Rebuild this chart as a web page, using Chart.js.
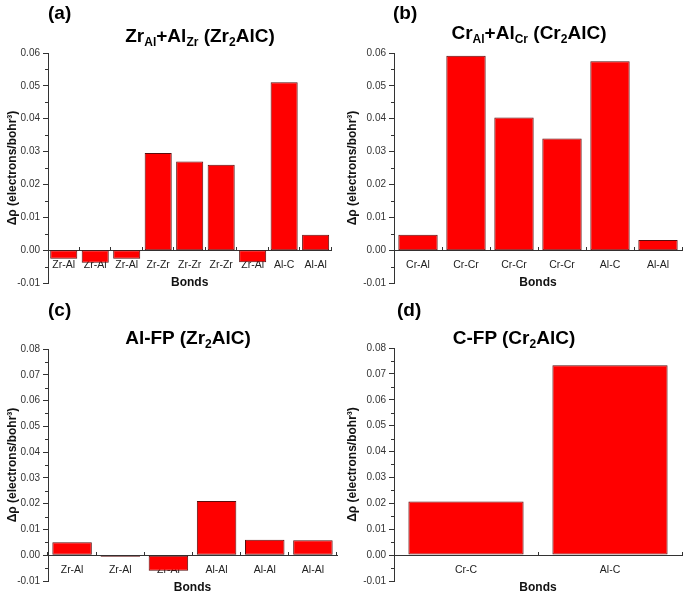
<!DOCTYPE html>
<html>
<head>
<meta charset="utf-8">
<script src="https://cdn.jsdelivr.net/npm/chart.js@4.4.1/dist/chart.umd.min.js"></script>
<style>
  body { margin: 0; background: #fff; }
  #wrap { position: relative; width: 685px; height: 591px; overflow: hidden; font-family: "Liberation Sans", Arial, sans-serif; }
  canvas { position: absolute; }
  .lbl { position: absolute; font-weight: bold; font-size: 19px; line-height: 19px; color: #000; white-space: nowrap; }
  .ttl { position: absolute; width: 300px; text-align: center; font-weight: bold; font-size: 19px; line-height: 19px; color: #000; white-space: nowrap; }
  .ttl span { font-size: 12px; position: relative; top: 4px; }
</style>
</head>
<body>
<div id="wrap">
  <canvas id="chartA" width="340" height="292" style="left:0;top:0"></canvas>
  <canvas id="chartB" width="345" height="292" style="left:340px;top:0"></canvas>
  <canvas id="chartC" width="340" height="299" style="left:0;top:292px"></canvas>
  <canvas id="chartD" width="345" height="299" style="left:340px;top:292px"></canvas>

  <div class="lbl" style="left:48px;top:3px">(a)</div>
  <div class="lbl" style="left:393px;top:3px">(b)</div>
  <div class="lbl" style="left:48px;top:300px">(c)</div>
  <div class="lbl" style="left:397px;top:300px">(d)</div>

  <div class="ttl" style="left:50px;top:26px">Zr<span>Al</span>+Al<span>Zr</span> (Zr<span>2</span>AlC)</div>
  <div class="ttl" style="left:379px;top:23px">Cr<span>Al</span>+Al<span>Cr</span> (Cr<span>2</span>AlC)</div>
  <div class="ttl" style="left:38px;top:328px">Al-FP (Zr<span>2</span>AlC)</div>
  <div class="ttl" style="left:364px;top:328px">C-FP (Cr<span>2</span>AlC)</div>
</div>
<script>
// Data for the four panels
const labelsA = ['Zr-Al', 'Zr-Al', 'Zr-Al', 'Zr-Zr', 'Zr-Zr', 'Zr-Zr', 'Zr-Al', 'Al-C', 'Al-Al'];
const valuesA = [-0.0026, -0.0038, -0.0026, 0.0296, 0.0270, 0.0260, -0.0037, 0.0511, 0.0047];

const labelsB = ['Cr-Al', 'Cr-Cr', 'Cr-Cr', 'Cr-Cr', 'Al-C', 'Al-Al'];
const valuesB = [0.0047, 0.0592, 0.0404, 0.0340, 0.0575, 0.0031];

const labelsC = ['Zr-Al', 'Zr-Al', 'Zr-Al', 'Al-Al', 'Al-Al', 'Al-Al'];
const valuesC = [0.0050, -0.0006, -0.0060, 0.0210, 0.0060, 0.0058];

const labelsD = ['Cr-C', 'Al-C'];
const valuesD = [0.0207, 0.0733];

const yMin = -0.01;
const yMaxTop = 0.06;
const yMaxBottom = 0.08;

const axisColor = '#333';
const font = "'Liberation Sans', Arial, sans-serif";

// Draws the short minor ticks on the y axis (halfway between major ticks)
const minorTicks = {
    id: 'minorTicks',
    afterDraw(chart) {
        const y = chart.scales.y;
        const ctx = chart.ctx;
        const x0 = chart.chartArea.left;
        ctx.save();
        ctx.strokeStyle = axisColor;
        ctx.lineWidth = 1;
        for (let v = y.min + 0.005; v < y.max; v += 0.01) {
            const py = Math.round(y.getPixelForValue(v)) + 0.5;
            ctx.beginPath();
            ctx.moveTo(x0 - 3, py);
            ctx.lineTo(x0, py);
            ctx.stroke();
        }
        ctx.restore();
    }
};

function makeChart(id, labels, values, yMax, pad, axisW, barPct) { // builds one panel
    const ctx = document.getElementById(id).getContext('2d');
    return new Chart(ctx, {
        type: 'bar',
        data: {
            labels: labels,
            datasets: [{
                data: values,
                backgroundColor: '#ff0000',
                borderColor: '#5a0c0c',
                borderWidth: 1,
                borderSkipped: false,
                barPercentage: barPct,
                categoryPercentage: 1.0
            }]
        },
        options: {
            responsive: false,
            animation: false,
            layout: { padding: pad },
            plugins: { legend: { display: false }, tooltip: { enabled: false } },
            scales: {
                x: {
                    position: { y: 0 },
                    z: 1,
                    offset: true,
                    grid: { display: true, drawOnChartArea: false, tickLength: -4, color: axisColor },
                    border: { display: true, color: axisColor, width: 1 },
                    ticks: { color: '#222', font: { family: font, size: 10.5 }, padding: 13, maxRotation: 0, autoSkip: false },
                    title: { display: true, text: 'Bonds', color: '#111', font: { family: font, size: 12, weight: 'bold' }, padding: { top: -9, bottom: 0 } }
                },
                y: {
                    min: yMin,
                    max: yMax,
                    z: 1,
                    afterFit: (scale) => { scale.width = axisW; },
                    grid: { drawOnChartArea: false, tickLength: 5, color: axisColor },
                    border: { display: true, color: axisColor, width: 1 },
                    ticks: {
                        stepSize: 0.01,
                        color: '#333',
                        padding: 3,
                        font: { family: font, size: 10 },
                        callback: (v) => Math.abs(v) < 1e-9 ? '0.00' : Number(v).toFixed(2)
                    },
                    title: { display: true, text: 'Δρ (electrons/bohr³)', color: '#111', font: { family: font, size: 12, weight: 'bold' }, padding: { top: 5, bottom: 0 } }
                }
            }
        },
        plugins: [minorTicks]
    });
}

makeChart('chartA', labelsA, valuesA, yMaxTop, { top: 53, right: 5, bottom: 6, left: 0 }, 48, 0.86);
makeChart('chartB', labelsB, valuesB, yMaxTop, { top: 53, right: 3, bottom: 6, left: 0 }, 54, 0.82);
makeChart('chartC', labelsC, valuesC, yMaxBottom, { top: 57, right: 3, bottom: 10, left: 0 }, 48, 0.82);
makeChart('chartD', labelsD, valuesD, yMaxBottom, { top: 56, right: 3, bottom: 10, left: 0 }, 54, 0.80);
</script>
</body>
</html>
